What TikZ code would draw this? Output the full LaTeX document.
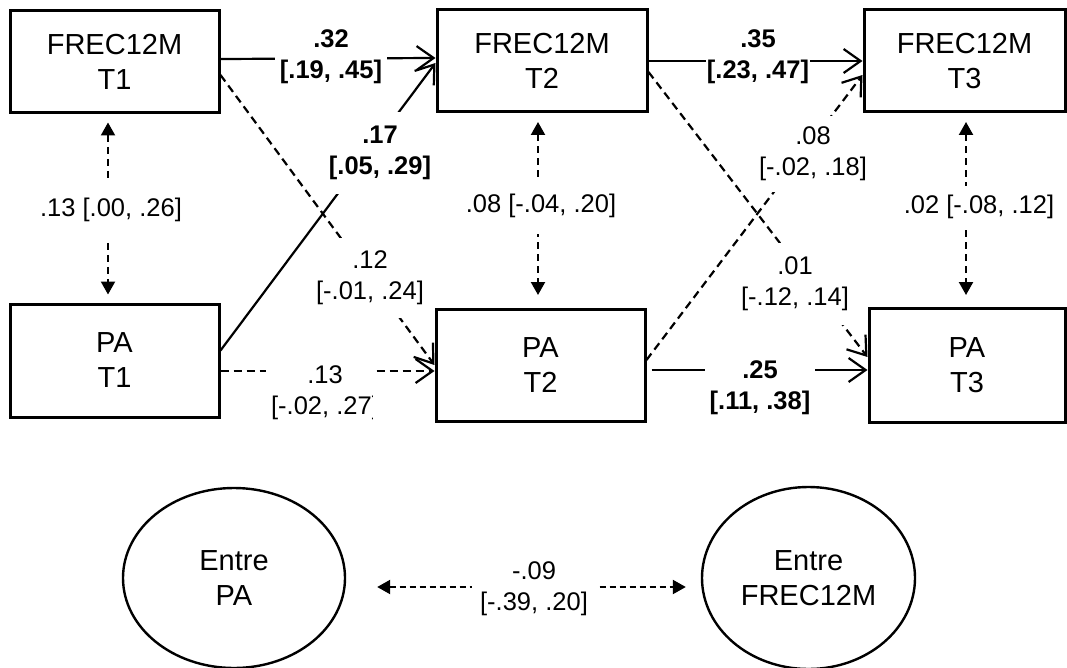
\documentclass[tikz,border=0pt]{standalone}
\usepackage{fontspec}
\setmainfont{Liberation Sans}
\usetikzlibrary{arrows.meta,shapes.geometric}

\newcommand\varfont{\fontsize{29}{35}\selectfont}
\newcommand\coeffont{\fontsize{25.5}{31}\selectfont}

\tikzset{
  var/.style={draw, line width=3pt, inner sep=0pt, align=center, font=\varfont},
  latent/.style={draw, ellipse, line width=2.4pt, inner sep=0pt, align=center, font=\varfont},
  reg/.style={line width=2.2pt, -{Straight Barb[length=17pt,width=24pt,line width=2.2pt]}},
  nsdash/.style={dash pattern=on 8pt off 5pt},
  cov/.style={line width=2.2pt, dash pattern=on 7pt off 5pt,
    {Triangle[length=13pt,width=14pt]}-{Triangle[length=13pt,width=14pt]}},
  coef/.style={fill=white, inner sep=3pt, align=center, font=\coeffont},
  sig/.style={coef, font=\coeffont\bfseries},
}

\begin{document}
\begin{tikzpicture}[x=1pt, y=-1pt]
\useasboundingbox (0,0) rectangle (1067,668);

% observed variables at the three waves
\node[var, minimum width=209pt, minimum height=102pt] (f1) at (114.5,62) {FREC12M\\T1};
\node[var, minimum width=210pt, minimum height=102pt] (f2) at (542,61) {FREC12M\\T2};
\node[var, minimum width=201pt, minimum height=102pt] (f3) at (964.5,61) {FREC12M\\T3};
\node[var, minimum width=209pt, minimum height=113pt] (p1) at (114.5,360.5) {PA\\T1};
\node[var, minimum width=209pt, minimum height=112pt] (p2) at (540.5,365) {PA\\T2};
\node[var, minimum width=196pt, minimum height=114pt] (p3) at (967,365) {PA\\T3};

% between-person factors
\node[latent, minimum width=222pt, minimum height=180pt] (ePA) at (234,578) {Entre\\PA};
\node[latent, minimum width=213pt, minimum height=182pt] (eF) at (808.5,578) {Entre\\FREC12M};

% significant paths (solid)
\draw[reg] ([yshift=3pt]f1.east) -- ([yshift=3pt]f2.west);
\draw[reg] (f2.east) -- (f3.west);
\draw[reg] ([yshift=10pt]p1.east) -- ([yshift=-2pt]f2.west);
\draw[reg, shorten <=5pt] ([yshift=-5pt]p2.east) -- ([yshift=-5pt]p3.west);

% non-significant paths (dashed)
\draw[reg, nsdash] ([yshift=-13pt]f1.east) -- (p2.west);
\draw[reg, nsdash] ([yshift=-10.5pt]p1.east) -- ([yshift=-6pt]p2.west);
\draw[reg, nsdash] ([yshift=5pt]p2.east) -- ([yshift=-14pt]f3.west);
\draw[reg, nsdash] ([yshift=-11pt]f2.east) -- ([yshift=8pt]p3.west);

% within-wave covariances
\draw[cov, shorten <=8pt, shorten >=8pt] ([xshift=-6.5pt]f1.south) -- ([xshift=-6.5pt]p1.north);
\draw[cov, shorten <=8.5pt, shorten >=12.5pt] ([xshift=-4pt]f2.south) -- ([xshift=-2.5pt]p2.north);
\draw[cov, shorten <=8.5pt, shorten >=11.5pt] ([xshift=1.5pt]f3.south) -- ([xshift=-1pt]p3.north);
\draw[cov, dash pattern=on 6pt off 4pt, shorten <=31pt, shorten >=15pt]
  ([yshift=-9pt]ePA.east) -- ([yshift=-9pt]eF.west);

% coefficients with confidence intervals
\node[sig, inner xsep=5pt] (l32) at (331,57) {.32\\{}[.19, .45]};
\node[sig, inner xsep=1pt] (l35) at (758,57) {.35\\{}[.23, .47]};
\node[sig, inner ysep=14pt] (l17) at (380,153) {.17\\{}[.05, .29]};
\node[sig, inner xsep=5pt] (l25) at (760,388) {.25\\{}[.11, .38]};
\node[coef, inner ysep=13pt] (l12) at (370,278) {.12\\{}[-.01, .24]};
\begin{scope}
  \clip (250,340) rectangle (372,440);
  \node[coef, inner xsep=5pt] (l13) at (325,393) {.13\\{}[-.02, .27]};
\end{scope}
\node[coef, inner ysep=11pt] (l08) at (813,154) {.08\\{}[-.02, .18]};
\node[coef, inner ysep=14pt] (l01) at (795,284) {.01\\{}[-.12, .14]};
\node[coef, inner ysep=16pt] (c1) at (111,210) {.13 [.00, .26]};
\node[coef, inner ysep=16pt] (c2) at (541,206) {.08 [-.04, .20]};
\node[coef, inner ysep=9pt] (c3) at (979,207) {.02 [-.08, .12]};
\node[coef, inner xsep=8pt] (l09) at (534,589) {-.09\\{}[-.39, .20]};
\end{tikzpicture}
\end{document}
